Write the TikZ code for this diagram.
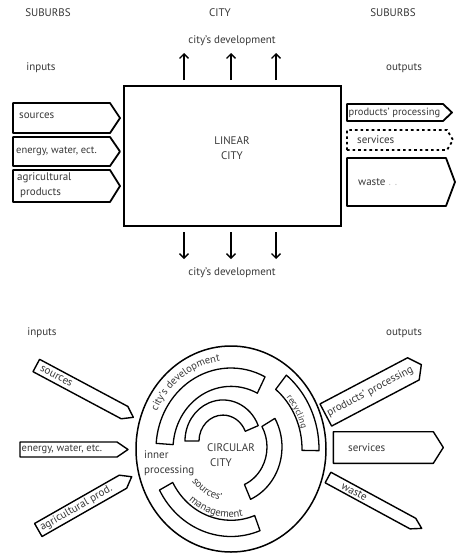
\documentclass[tikz,border=0pt]{standalone}
\usepackage{fontspec}
\setmainfont{PT Sans}
\usetikzlibrary{arrows.meta,decorations.text,calc}
\newcommand\penta[6]{%
  \draw[#1, shift={#2}, rotate=#3] (0,{-(#5)/2}) -- ({#4-#6},{-(#5)/2}) -- (#4,0) -- ({#4-#6},{(#5)/2}) -- (0,{(#5)/2}) -- cycle;}
\newcommand\band[5]{%
  \draw[bandline, shift={#1}] (#4:#3 and {1.08*#3}) arc[start angle=#4, end angle=#5, x radius=#3, y radius={1.08*#3}]
    -- (#5:#2 and {1.08*#2}) arc[start angle=#5, end angle=#4, x radius=#2, y radius={1.08*#2}] -- cycle;}
\newcommand\ctxt{\fontsize{10.5}{12}\selectfont}
\begin{document}
\begin{tikzpicture}[x=1pt,y=1pt,
  txt/.style={text=black!78, inner sep=0pt, font=\fontsize{11}{15}\selectfont},
  stxt/.style={txt, font=\fontsize{10.5}{14}\selectfont},
  bigbox/.style={draw=black, line width=2.4pt},
  lbox/.style={draw=black, line width=1.8pt, line join=round},
  dotbox/.style={draw=black, line width=1.8pt, dash pattern=on 2.6pt off 3pt},
  cbox/.style={draw=black, line width=1.4pt, line join=round},
  bandline/.style={draw=black, line width=1.3pt, line join=round},
  cline/.style={draw=black, line width=1.5pt},
  devarr/.style={line width=1.3pt, -{Straight Barb[length=4.5pt,width=9pt,line width=1.3pt]}},
]
\useasboundingbox (0,0) rectangle (456,-554);
\fill[white] (0,0) rectangle (456,-554);

% ---------- linear city ----------
\node[txt] (sub1) at (48,-13) {SUBURBS};
\node[txt] (city) at (220,-13) {CITY};
\node[txt] (sub2) at (393,-13) {SUBURBS};
\node[txt] (dev1) at (232,-41) {city’s development};
\node[txt] (in1) at (41,-68) {inputs};
\node[txt] (out1) at (404,-68) {outputs};

\node[bigbox, minimum width=217pt, minimum height=140pt, inner sep=0pt] (lin) at (232.5,-156) {};
\node[txt, align=center] (lintxt) at (232,-148.5) {LINEAR\\CITY};

\coordinate (u1a) at (184,-80); \coordinate (u1b) at (184,-53);
\coordinate (u2a) at (231,-80); \coordinate (u2b) at (231,-53);
\coordinate (u3a) at (276,-80); \coordinate (u3b) at (276,-53);
\draw[devarr] (u1a) -- (u1b);
\draw[devarr] (u2a) -- (u2b);
\draw[devarr] (u3a) -- (u3b);
\coordinate (d1a) at (184,-232); \coordinate (d1b) at (184,-259);
\coordinate (d2a) at (231,-232); \coordinate (d2b) at (231,-259);
\coordinate (d3a) at (276,-232); \coordinate (d3b) at (276,-259);
\draw[devarr] (d1a) -- (d1b);
\draw[devarr] (d2a) -- (d2b);
\draw[devarr] (d3a) -- (d3b);
\node[txt] (dev2) at (232,-273) {city’s development};

\penta{lbox}{(13,-118)}{0}{107}{30}{10}
\node[txt, anchor=west] (srcA) at (19,-116) {sources};
\penta{lbox}{(13,-151.5)}{0}{107}{29}{10}
\node[stxt, anchor=west] (engA) at (16,-151) {energy, water, ect.};
\penta{lbox}{(13,-186)}{0}{107}{32}{10}
\node[txt, anchor=west, align=left] (agrA) at (17,-185) {agricultural\\\hspace{3pt}products};

\penta{lbox}{(347,-112.5)}{0}{105}{17}{9}
\node[stxt, anchor=west] (prodA) at (348.5,-112.5) {products’ processing};
\penta{dotbox}{(347,-140)}{0}{106}{20}{6}
\node[txt, anchor=west] (servA) at (357,-140) {services};
\penta{lbox}{(347,-182)}{0}{108}{48}{9}
\node[txt, anchor=west] (wasteA) at (358,-182) {waste {\color{black!25}. .}};

% ---------- circular city ----------
\node[txt] (in2) at (42,-333) {inputs};
\node[txt] (out2) at (404,-333) {outputs};

\coordinate (O) at (231,-449);
\draw[cline] (O) ellipse [x radius=95, y radius=103];
\band{(O)}{58}{75}{63}{176}
\band{(223,-441)}{24}{38}{22}{180}
\band{(229,-447)}{38}{53}{-66}{30}
\band{(O)}{71}{88}{-1}{51}
\band{(O)}{66}{81}{208}{291}

\path[shift={(O)}, decorate, decoration={text along path, text align=center, text color=black!78,
  text={|\ctxt|city’s development}}] (160:82 and 88.56) arc[start angle=160, end angle=92, x radius=82, y radius=88.56];
\path[shift={(O)}, decorate, decoration={text along path, text align=center, text color=black!78,
  text={|\fontsize{9}{10}\selectfont|recycling}}] (56:73 and 78.84) arc[start angle=56, end angle=0, x radius=73, y radius=78.84];
\path[shift={(O)}, decorate, decoration={text along path, text align=center, text color=black!78,
  text={|\ctxt|sources’}}] (208:49 and 52.92) arc[start angle=208, end angle=268, x radius=49, y radius=52.92];
\path[shift={(O)}, decorate, decoration={text along path, text align=center, text color=black!78,
  text={|\ctxt|management}}] (218:63.5 and 68.58) arc[start angle=218, end angle=292, x radius=63.5, y radius=68.58];

\node[txt, align=left, anchor=west] (inner) at (144,-463) {inner\\processing};
\node[txt, align=left, anchor=west] (circ) at (207,-455) {CIRCULAR\\\hspace{3pt}CITY};

\penta{cbox}{(36.3,-365.5)}{-28.1}{110}{14}{10}
\node[txt, rotate=-28.1, anchor=west] (srcB) at ($(36.3,-365.5)+(-28.1:5)$) {sources};
\penta{cbox}{(20,-449.5)}{0}{108}{15}{11}
\node[stxt, anchor=west] (engB) at (21.5,-449.5) {energy, water, etc.};
\penta{cbox}{(38.3,-530)}{29.7}{107.5}{15}{10}
\node[txt, rotate=29.7, anchor=west] (agrB) at ($(38.3,-530)+(29.7:3)$) {agricultural prod.};
\penta{cbox}{(325.8,-415)}{27.8}{108}{25}{9}
\node[txt, rotate=27.8, anchor=west] (prodB) at ($(325.8,-415)+(27.8:2)$) {products’ processing};
\penta{cbox}{(333.3,-447.5)}{0}{110}{31.6}{10}
\node[txt, anchor=west] (servB) at (348,-448) {services};
\penta{cbox}{(328,-477.5)}{-28.5}{106.6}{12}{10}
\node[txt, rotate=-28.5, anchor=west] (wasteB) at ($(328,-477.5)+(-28.5:16)$) {waste};
\end{tikzpicture}
\end{document}
